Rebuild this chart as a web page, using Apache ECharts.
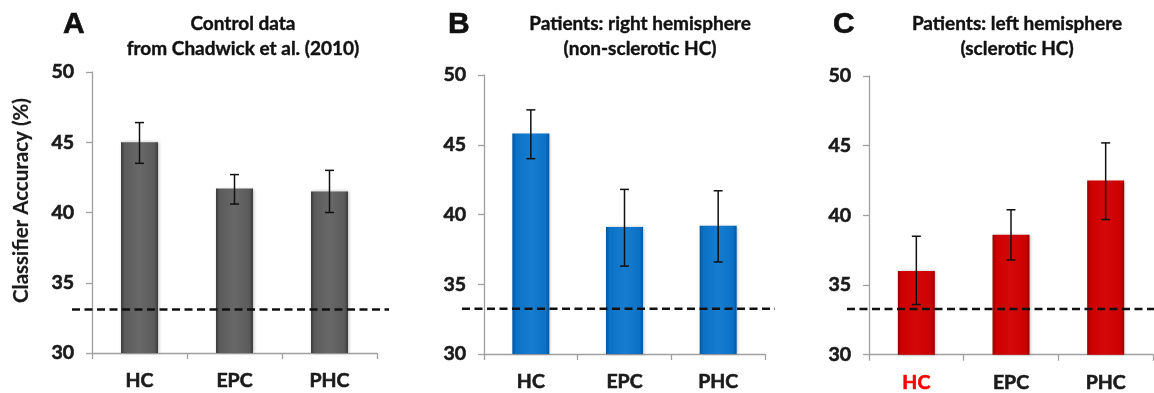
<!DOCTYPE html>
<html>
<head>
<meta charset="utf-8">
<script src="https://cdn.jsdelivr.net/npm/echarts@6/dist/echarts.min.js"></script>
<style>
html,body{margin:0;padding:0;background:#fff;}
#c{width:1154px;height:393px;}
</style>
</head>
<body>
<div id="c"></div>
<script>
const categories = ['HC', 'EPC', 'PHC'];
const yTicks = [30, 35, 40, 45, 50];

const controlMeans = [45.0, 41.7, 41.5];
const controlUpper = [46.4, 42.7, 43.0];
const controlLower = [43.5, 40.6, 40.0];

const rightMeans = [45.8, 39.1, 39.2];
const rightUpper = [47.5, 41.8, 41.7];
const rightLower = [44.0, 36.3, 36.6];

const leftMeans = [36.0, 38.6, 42.5];
const leftUpper = [38.5, 40.4, 45.2];
const leftLower = [33.6, 36.8, 39.7];

const chanceLevels = [33.1, 33.25, 33.3];

const panelLetters = ['A', 'B', 'C'];
const panelTitles = [
  'Control data\nfrom Chadwick et al. (2010)',
  'Patients: right hemisphere\n(non-sclerotic HC)',
  'Patients: left hemisphere\n(sclerotic HC)'
];

const FONT = 'Lato, "Open Sans", sans-serif';
const panels = [
  {means: controlMeans, upper: controlUpper, lower: controlLower, dark: '#3a3a3a', mid: '#5b5b5b', light: '#686868'},
  {means: rightMeans, upper: rightUpper, lower: rightLower, dark: '#0055a0', mid: '#0a72c6', light: '#167cd0'},
  {means: leftMeans, upper: leftUpper, lower: leftLower, dark: '#9a0000', mid: '#cc0000', light: '#d40808'}
];

const gridsMain = [
  {left: 92, top: 72, width: 285, height: 281},
  {left: 484, top: 75, width: 281, height: 279},
  {left: 869, top: 76, width: 284, height: 279}
];
const gridsDash = [
  {left: 72, top: 72, width: 317, height: 281},
  {left: 462, top: 75, width: 313, height: 279},
  {left: 847, top: 76, width: 307, height: 279}
];
const titleCenters = [238, 635, 1012];
const letterLefts = [58, 443, 828];

const heavy = (c) => ({textBorderColor: c, textBorderWidth: 0.6});

const grid = [], xAxis = [], yAxis = [], series = [], title = [];

panels.forEach((p, i) => {
  grid.push(gridsMain[i]);
  xAxis.push({
    type: 'category', gridIndex: i,
    data: categories.map((c, k) => (i === 2 && k === 0)
      ? {value: c, textStyle: Object.assign({color: '#ff0000'}, heavy('#ff0000'))} : c),
    axisLine: {lineStyle: {color: '#a0a0a0', width: 1.3}},
    axisTick: {show: true, length: 6, lineStyle: {color: '#a0a0a0', width: 1.3}},
    axisLabel: Object.assign({margin: 18, fontSize: 19.5, fontWeight: 'bold', color: '#1a1a1a', fontFamily: FONT}, heavy('#1a1a1a'))
  });
  yAxis.push({
    type: 'value', gridIndex: i, min: yTicks[0], max: yTicks[yTicks.length - 1], interval: 5,
    splitLine: {show: false},
    axisLine: {show: true, lineStyle: {color: '#a0a0a0', width: 1.3}},
    axisTick: {show: true, length: 6, lineStyle: {color: '#a0a0a0', width: 1.3}},
    axisLabel: Object.assign({margin: 18, fontSize: 19.5, fontWeight: 'bold', color: '#1a1a1a', fontFamily: FONT}, heavy('#1a1a1a')),
    name: i === 0 ? 'Classifier Accuracy (%)' : '',
    nameLocation: 'middle', nameRotate: 90, nameGap: 60,
    nameTextStyle: Object.assign({fontSize: 20.5, color: '#1a1a1a', fontFamily: FONT, fontWeight: 'bold', padding: [0, 0, 0, 24]}, {textBorderColor: '#1a1a1a', textBorderWidth: 0.2})
  });
  series.push({
    type: 'bar', xAxisIndex: i, yAxisIndex: i, barWidth: 37,
    data: p.means,
    itemStyle: {
      color: {type: 'linear', x: 0, y: 0, x2: 1, y2: 0, colorStops: [
        {offset: 0, color: p.dark}, {offset: 0.1, color: p.mid}, {offset: 0.5, color: p.light},
        {offset: 0.9, color: p.mid}, {offset: 1, color: p.dark}]},
      shadowColor: 'rgba(0,0,0,0.25)', shadowBlur: 3, shadowOffsetX: 1, shadowOffsetY: 0
    },
    z: 2
  });
  series.push({
    type: 'custom', xAxisIndex: i, yAxisIndex: i, z: 4,
    data: categories.map((c, k) => [k, p.upper[k], p.lower[k]]),
    renderItem: function (params, api) {
      const x = api.value(0);
      const a = api.coord([x, api.value(1)]);
      const b = api.coord([x, api.value(2)]);
      const w = 4.5;
      const st = {stroke: '#111', lineWidth: 1.5};
      return {type: 'group', children: [
        {type: 'line', shape: {x1: a[0], y1: a[1], x2: b[0], y2: b[1]}, style: st},
        {type: 'line', shape: {x1: a[0] - w, y1: a[1], x2: a[0] + w, y2: a[1]}, style: st},
        {type: 'line', shape: {x1: b[0] - w, y1: b[1], x2: b[0] + w, y2: b[1]}, style: st}
      ]};
    }
  });
  title.push({
    text: panelLetters[i], left: letterLefts[i], top: 5,
    textStyle: Object.assign({fontSize: 30, fontWeight: 900, color: '#111', fontFamily: '"Liberation Sans", Arial, sans-serif'}, heavy('#111'))
  });
  title.push({
    text: panelTitles[i], left: titleCenters[i], top: 6, textAlign: 'center',
    textStyle: Object.assign({fontSize: 19, fontWeight: 'bold', color: '#111', lineHeight: 25, fontFamily: FONT}, {textBorderColor: '#111', textBorderWidth: 0.4})
  });
});

panels.forEach((p, i) => {
  const gi = 3 + i;
  grid.push(gridsDash[i]);
  xAxis.push({type: 'value', gridIndex: gi, min: 0, max: 1, show: false});
  yAxis.push({type: 'value', gridIndex: gi, min: 30, max: 50, show: false});
  series.push({
    type: 'line', xAxisIndex: gi, yAxisIndex: gi, z: 3, symbol: 'none',
    data: [[0, chanceLevels[i]], [1, chanceLevels[i]]],
    lineStyle: {color: '#111', width: 2.5, type: [8, 4.5]},
    silent: true
  });
});

const chart = echarts.init(document.getElementById('c'));
chart.setOption({animation: false, title, grid, xAxis, yAxis, series});
</script>
</body>
</html>
